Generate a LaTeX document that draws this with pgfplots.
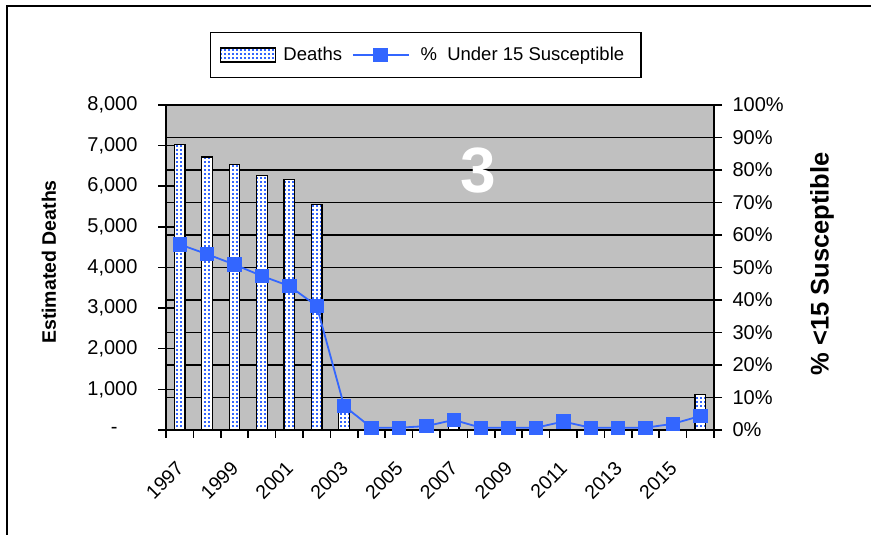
\documentclass[border=0pt]{standalone}
\usepackage{fontspec}
\setmainfont{Liberation Sans}
\usepackage{pgfplots}
\usepackage{pgfplotstable}
\pgfplotsset{compat=1.18}
\usetikzlibrary{patterns}

\definecolor{mblue}{RGB}{51,102,255}
\definecolor{bggray}{RGB}{192,192,192}

% small square dots for the bars
\pgfdeclarepatternformonly{bigdots}{\pgfqpoint{-1pt}{-1pt}}{\pgfqpoint{5pt}{5pt}}{\pgfqpoint{4pt}{4pt}}{%
  \pgfpathrectangle{\pgfqpoint{0pt}{0pt}}{\pgfqpoint{2pt}{2pt}}\pgfusepath{fill}}

\pgfplotstableread{
year idx deaths pct
1997 0  7020 57.1
1998 1  6720 54.1
1999 2  6530 50.9
2000 3  6270 47.4
2001 4  6170 44.3
2002 5  5550 38.2
2003 6  690  7.4
2004 7  0    0.7
2005 8  0    0.7
2006 9  0    1.2
2007 10 400  3.1
2008 11 0    0.7
2009 12 0    0.7
2010 13 0    0.7
2011 14 300  2.6
2012 15 0    0.7
2013 16 0    0.7
2014 17 0    0.7
2015 18 270  1.9
2016 19 880  4.3
}\mydata

\pgfplotsset{
  chartbox/.style={
    at={(166pt,105pt)}, anchor=south west,
    scale only axis, width=548pt, height=325pt,
    xmin=-0.5, xmax=19.5,
    /pgf/number format/assume math mode=true,
    every tick/.style={black, line width=1.5pt},
    ticklabel style={font=\fontsize{20}{24}\selectfont},
  },
}

\begin{document}
\begin{tikzpicture}
\useasboundingbox (0pt,0pt) rectangle (871pt,535pt);
\draw[line width=2pt] (7pt,0pt) -- (7pt,529pt) -- (871pt,529pt);

% right axis, background and grid
\begin{axis}[chartbox,
    ymin=0, ymax=100,
    axis x line=none,
    axis y line*=right,
    axis background/.style={fill=bggray},
    ytick={0,10,...,100},
    yticklabels={0\%,10\%,20\%,30\%,40\%,50\%,60\%,70\%,80\%,90\%,100\%},
    ymajorgrids=true,
    grid style={black, line width=1.6pt},
    y axis line style={line width=2pt},
    tick align=outside,
    major tick length=8pt,
    yticklabel style={xshift=7pt},
  ]
  \addplot[draw=none] coordinates {(0,0)};
\end{axis}

% left axis and bars
\begin{axis}[chartbox,
    ymin=0, ymax=8000,
    axis x line=none,
    axis y line*=left,
    ytick={0,1000,...,8000},
    yticklabels={{-\hspace*{20pt}},{1,000},{2,000},{3,000},{4,000},{5,000},{6,000},{7,000},{8,000}},
    y axis line style={line width=2pt},
    tick align=center,
    major tick length=16pt,
    yticklabel style={xshift=-17pt},
  ]
  \addplot[ybar, bar width=10.5pt, fill=white, draw=black, line width=1.2pt,
    postaction={pattern=bigdots, pattern color=mblue}]
    table[x=idx, y=deaths] {\mydata};
\end{axis}

% x axis, susceptible line, legend
\begin{axis}[chartbox,
    ymin=0, ymax=100,
    axis y line=none,
    axis x line*=bottom,
    x axis line style={line width=2pt, -},
    xtick={0,2,...,18},
    xticklabels={1997,1999,2001,2003,2005,2007,2009,2011,2013,2015},
    minor xtick={-0.5,0.5,...,19.5},
    major tick length=0pt,
    minor tick length=8pt,
    tick align=outside,
    xticklabel style={font=\fontsize{19.5}{22}\selectfont, rotate=45, anchor=east, xshift=-21pt, yshift=-25pt},
    clip=false,
    legend columns=2,
    legend style={at={(0.474,1.154)}, anchor=center, draw=black, line width=1.5pt,
      font=\fontsize{18.5}{21}\selectfont,
      inner xsep=10pt, inner ysep=13pt,
      nodes={inner xsep=7pt, inner ysep=2pt},
      /tikz/every even column/.append style={column sep=3pt}},
  ]
  \addlegendimage{legend image code/.code={%
      \draw[black, line width=1.2pt, fill=white, postaction={pattern=bigdots, pattern color=mblue}]
        (0pt,-7pt) rectangle (55pt,7pt);}}
  \addplot[color=mblue, line width=1.8pt, mark=square*, mark size=6.3pt,
    mark options={solid, fill=mblue, draw=mblue},
    legend image code/.code={%
      \draw[mblue, line width=1.5pt] (0pt,0pt) -- (56pt,0pt);
      \fill[mblue] (21.5pt,-6.5pt) rectangle (34.5pt,6.5pt);}]
    table[x=idx, y=pct] {\mydata};
  \legend{Deaths, \hspace*{4pt}\%~ Under 15 Susceptible}
  \node[text=white, font=\fontsize{64}{70}\selectfont\bfseries] at (rel axis cs:0.569,0.797) {3};
\end{axis}

\node[rotate=90, font=\fontsize{19.5}{22}\selectfont\bfseries] at (49pt,273pt) {Estimated Deaths};
\node[rotate=90, font=\fontsize{25.5}{28}\selectfont\bfseries] at (822pt,271pt) {\% <15 Susceptible};
\end{tikzpicture}
\end{document}
